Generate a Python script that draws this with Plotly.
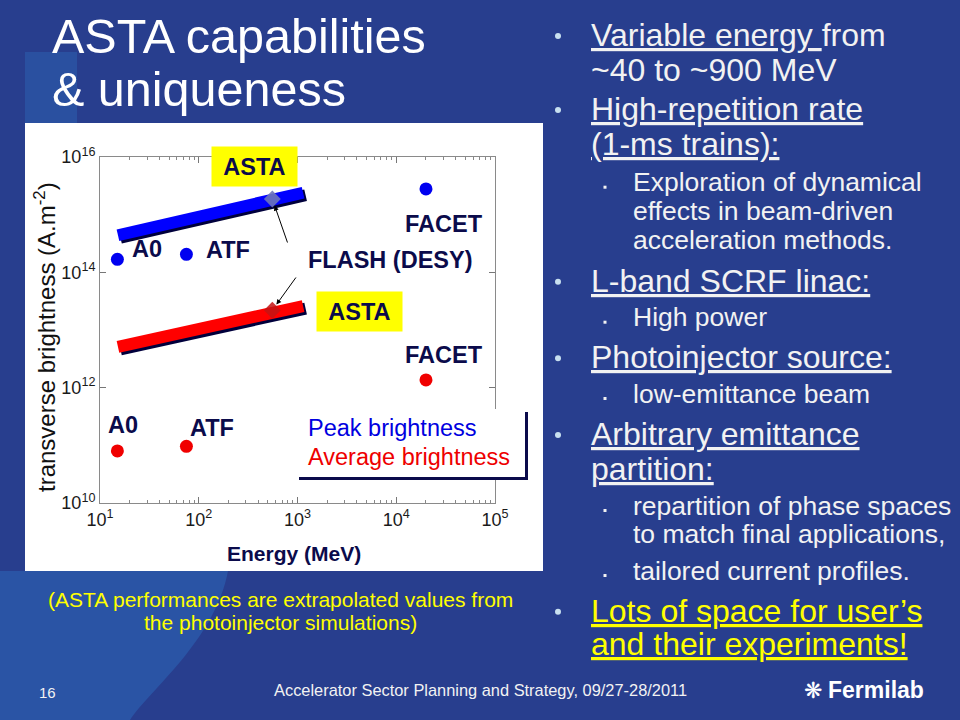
import numpy as np
import plotly.graph_objects as go

W, H = 960, 720
BG = "rgb(40,62,142)"
NAVY = "#0b0b4b"
FONT = "Liberation Sans, Arial, sans-serif"

# ---------------- data ----------------
facility_names = ["A0", "ATF", "FACET"]
facility_energy = [15, 75, 2.0e4]            # MeV
peak_brightness = [1.68e14, 2.05e14, 2.8e15]  # A/m^2
avg_brightness = [8.0e10, 9.6e10, 1.36e12]
asta_energy = [15.2, 1140]
asta_peak = [4.4e14, 2.4e15]
asta_avg = [5.1e12, 2.6e13]
flash_energy = [556]
flash_peak = [1.87e15]
flash_avg = [2.2e13]

x_tickvals = [1e1, 1e2, 1e3, 1e4, 1e5]
x_ticktext = ["10<sup>1</sup>", "10<sup>2</sup>", "10<sup>3</sup>", "10<sup>4</sup>", "10<sup>5</sup>"]
y_tickvals = [1e10, 1e12, 1e14, 1e16]
y_ticktext = ["10<sup>10</sup>", "10<sup>12</sup>", "10<sup>14</sup>", "10<sup>16</sup>"]
x_minor = [m * 10 ** k for k in range(1, 5) for m in range(2, 10)]

# ---------------- layout helpers ----------------
PL, PR, PT, PB = 100, 495, 157, 503   # plot area in pixels


def px(x):
    return x / W


def py(y):
    return 1 - y / H


def xlog(xp):
    return 1 + (xp - PL) / ((PR - PL) / 4)


def ylog(yp):
    return 16 - (yp - PT) / ((PB - PT) / 6)


# shadow offset (pixels -> multiplicative factor on log axes)
sx = 10 ** (2.5 / ((PR - PL) / 4))
sy = 10 ** (-2.5 / ((PB - PT) / 6))

fig = go.Figure()

# bands (ASTA) with shadow
for yvals, col in [(asta_peak, "#0000ff"), (asta_avg, "#ff0000")]:
    fig.add_trace(go.Scatter(x=[v * sx for v in asta_energy], y=[v * sy for v in yvals],
                             mode="lines", line=dict(color="#00003c", width=12),
                             hoverinfo="skip"))
    fig.add_trace(go.Scatter(x=asta_energy, y=yvals, mode="lines",
                             line=dict(color=col, width=12), hoverinfo="skip"))

# facilities
fig.add_trace(go.Scatter(x=facility_energy, y=peak_brightness, mode="markers",
                         marker=dict(color="#0000f0", size=13), text=facility_names))
fig.add_trace(go.Scatter(x=facility_energy, y=avg_brightness, mode="markers",
                         marker=dict(color="#f00000", size=13), text=facility_names))
# FLASH
fig.add_trace(go.Scatter(x=flash_energy, y=flash_peak, mode="markers",
                         marker=dict(symbol="diamond", color="rgba(110,118,185,0.9)", size=13)))
fig.add_trace(go.Scatter(x=flash_energy, y=flash_avg, mode="markers",
                         marker=dict(symbol="diamond", color="rgba(195,20,20,0.85)", size=13)))

shapes = [
    # lighter background areas
    dict(type="rect", xref="paper", yref="paper", x0=px(25), x1=px(77), y0=py(123), y1=py(52),
         fillcolor="rgb(42,80,160)", line_width=0, layer="below"),
    dict(type="path", xref="paper", yref="paper",
         path=f"M {px(0)},{py(571)} L {px(228)},{py(571)} C {px(215)},{py(640)} {px(150)},{py(690)} {px(130)},{py(720)} L {px(0)},{py(720)} Z",
         fillcolor="rgb(42,84,165)", line_width=0, layer="below"),
    # white chart panel
    dict(type="rect", xref="paper", yref="paper", x0=px(25), x1=px(543), y0=py(571), y1=py(123),
         fillcolor="white", line_width=0, layer="below"),
    # legend box with shadow
    dict(type="rect", xref="paper", yref="paper", x0=px(297), x1=px(525), y0=py(477), y1=py(409),
         fillcolor="white", line_width=0, layer="above"),
    dict(type="rect", xref="paper", yref="paper", x0=px(525), x1=px(528), y0=py(480), y1=py(412),
         fillcolor=NAVY, line_width=0, layer="above"),
    dict(type="rect", xref="paper", yref="paper", x0=px(299), x1=px(528), y0=py(480), y1=py(477),
         fillcolor=NAVY, line_width=0, layer="above"),
]

ann = []


def text(x, y, s, size, color="#f2f2f2", bold=False, xanchor="center", family=FONT, **kw):
    if bold:
        s = "<b>" + s + "</b>"
    d = dict(xref="paper", yref="paper", x=px(x), y=py(y), text=s, showarrow=False,
             xanchor=xanchor, yanchor="middle", font=dict(size=size, color=color, family=family))
    d.update(kw)
    ann.append(d)


LBL = 23.5
# chart labels
text(147, 249, "A0", LBL, NAVY, True)
text(228, 250, "ATF", LBL, NAVY, True)
text(444, 224, "FACET", LBL, NAVY, True)
text(390, 260, "FLASH (DESY)", LBL, NAVY, True)
text(444, 355, "FACET", LBL, NAVY, True)
text(123, 425, "A0", LBL, NAVY, True)
text(212, 428, "ATF", LBL, NAVY, True)
text(254, 166, "ASTA", LBL, NAVY, True, bgcolor="#ffff00", width=85, height=39, borderpad=0)
text(359.5, 311, "ASTA", LBL, NAVY, True, bgcolor="#ffff00", width=85, height=39, borderpad=0)
text(306, 428, "Peak brightness", 23.5, "#0000e0", xanchor="left")
text(306, 457, "Average brightness", 23.5, "#ee0000", xanchor="left")
text(294, 553, "Energy (MeV)", 21, NAVY, True)
text(45, 337, "transverse brightness (A.m<sup>-2</sup>)", 24, "#111111", textangle=-90)

# arrows to FLASH points
for fy, tail in [(flash_peak[0], (288, 244)), (flash_avg[0], (297, 276))]:
    ann.append(dict(xref="x", yref="y", axref="x", ayref="y",
                    x=np.log10(flash_energy[0]), y=np.log10(fy),
                    ax=xlog(tail[0]), ay=ylog(tail[1]), text="", showarrow=True,
                    arrowhead=2, arrowsize=1, arrowwidth=1, arrowcolor="#000000", standoff=7))

# slide title
text(50, 36, "ASTA capabilities", 48.5, "white", xanchor="left")
text(50, 89, "&amp; uniqueness", 48.5, "white", xanchor="left")

# right column text
MAIN, SUB = 32, 26.5
items = [
    ("m", "<u>Variable energy </u>from", 46, None),
    ("c", "~40 to ~900 MeV", 81, None),
    ("m", "<u>High-repetition rate</u>", 120, None),
    ("c", "<u>(1-ms trains):</u>", 155, None),
    ("s", "Exploration of dynamical", 191.7, None),
    ("t", "effects in beam-driven", 220.7, None),
    ("t", "acceleration methods.", 249.3, None),
    ("m", "<u>L-band SCRF linac:</u>", 291.7, None),
    ("s", "High power", 326.7, None),
    ("m", "<u>Photoinjector source:</u>", 368.3, None),
    ("s", "low-emittance beam", 403, None),
    ("m", "<u>Arbitrary emittance</u>", 445, None),
    ("c", "<u>partition:</u>", 480, None),
    ("s", "repartition of phase spaces", 515, None),
    ("t", "to match final applications,", 543.3, None),
    ("s", "tailored current profiles.", 580, None),
    ("m", "<u>Lots of space for user’s</u>", 621.7, "#ffff00"),
    ("c", "<u>and their experiments!</u>", 655, "#ffff00"),
]
for kind, s, base, col in items:
    col = col or "#f2f2f2"
    if kind in ("m", "c"):
        text(589, base - 0.35 * MAIN, s, MAIN, col, xanchor="left")
        if kind == "m":
            shapes.append(dict(type="circle", xref="paper", yref="paper",
                               x0=px(555), x1=px(561), y0=py(base - 13), y1=py(base - 7),
                               fillcolor="#c8e0f0", line_width=0))
    else:
        text(631, base - 0.35 * SUB, s, SUB, col, xanchor="left")
        if kind == "s":
            shapes.append(dict(type="rect", xref="paper", yref="paper",
                               x0=px(603.5), x1=px(606.5), y0=py(base - 3), y1=py(base - 6),
                               fillcolor="#f2f2f2", line_width=0))

# caption & footer
text(280, 599, "(ASTA performances are extrapolated values from", 21, "#ffff00")
text(280, 622, "the photoinjector simulations)", 21, "#ffff00")
text(47, 692, "16", 15, "#f2f2f2")
text(480, 690, "Accelerator Sector Planning and Strategy, 09/27-28/2011", 16.4, "#f2f2f2")
text(813, 690, "❋", 22, "white", family="DejaVu Sans")
text(826, 690, "Fermilab", 23, "white", True, xanchor="left")

fig.update_layout(
    width=W, height=H, margin=dict(l=0, r=0, t=0, b=0, pad=0, autoexpand=False),
    paper_bgcolor=BG, plot_bgcolor="white", showlegend=False,
    font=dict(family=FONT),
    xaxis=dict(type="log", range=[1, 5], domain=[px(PL), px(PR)], automargin=False,
               tickmode="array", tickvals=x_tickvals, ticktext=x_ticktext,
               ticks="inside", ticklen=6, tickcolor="#777", showline=True,
               linecolor="#8a8a8a", linewidth=1, mirror="ticks", showgrid=False,
               zeroline=False, tickfont=dict(size=18, color="#1a1a1a"),
               minor=dict(ticks="inside", ticklen=3, tickcolor="#888",
                          tickmode="array", tickvals=x_minor, showgrid=False)),
    yaxis=dict(type="log", range=[10, 16], domain=[py(PB), py(PT)], automargin=False,
               tickmode="array", tickvals=y_tickvals, ticktext=y_ticktext,
               ticks="inside", ticklen=6, tickcolor="#777", showline=True,
               linecolor="#8a8a8a", linewidth=1, mirror="ticks", showgrid=False,
               zeroline=False, tickfont=dict(size=18, color="#1a1a1a")),
    shapes=shapes, annotations=ann,
)

fig.write_html("out.html", config={"displayModeBar": False},
               post_script="document.body.style.margin='0';document.body.style.overflow='hidden';")
